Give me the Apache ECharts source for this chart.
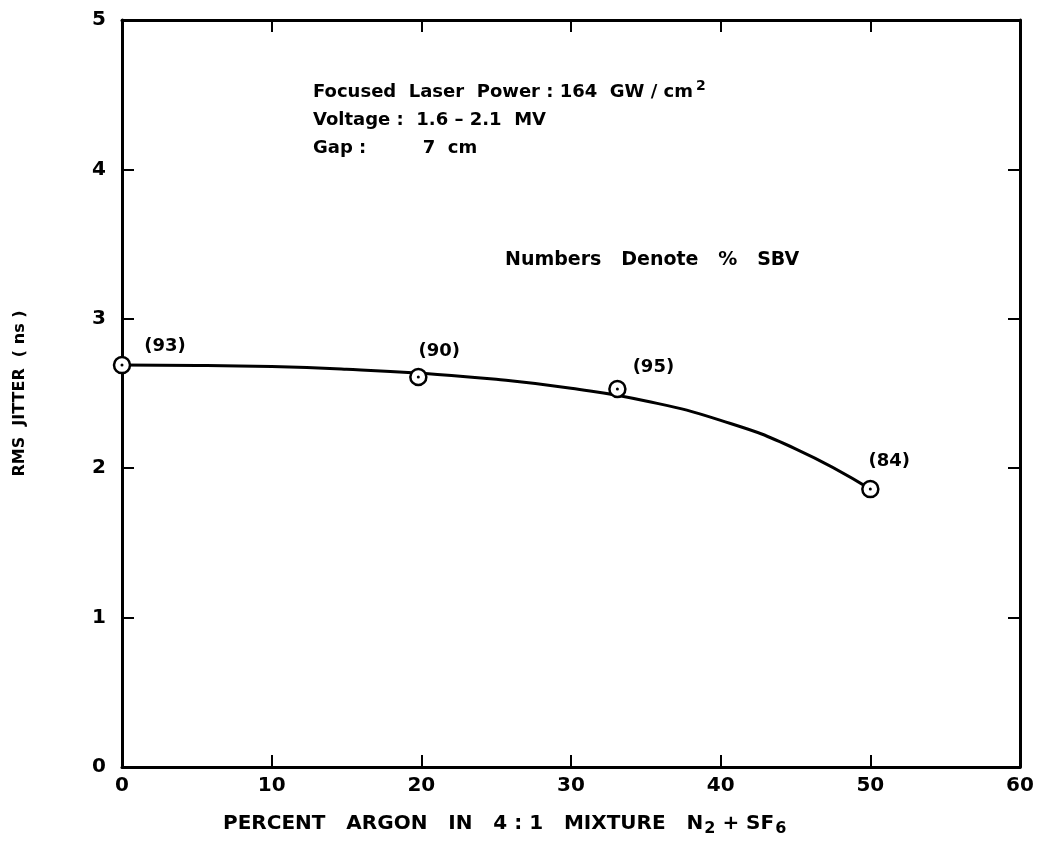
<!DOCTYPE html>
<html>
<head>
<meta charset="utf-8">
<style>
  html, body { margin: 0; padding: 0; background: #fff; }
  #chart { width: 1047px; height: 866px; }
</style>
<script src="https://cdn.jsdelivr.net/npm/echarts@6/dist/echarts.min.js"></script>
</head>
<body>
<div id="chart"></div>
<script>
// measured points (percent argon, rms jitter in ns)
const pointX = [0, 19.8, 33.1, 50]
const pointY = [2.69, 2.61, 2.53, 1.86]
const pointLabels = ['(93)', '(90)', '(95)', '(84)']

// hand-drawn trend curve
const curveX = [0, 5, 10, 15, 20, 25, 30, 35, 40, 45, 50]
const curveY = [2.69, 2.688, 2.68, 2.662, 2.635, 2.595, 2.535, 2.45, 2.32, 2.13, 1.86]

const xTicks = [0, 10, 20, 30, 40, 50, 60]
const yTicks = [0, 1, 2, 3, 4, 5]

const FONT = 'DejaVu Sans'
const labelOffsets = [[43, 4], [21, -2], [36, 2], [19, -5]]

const chart = echarts.init(document.getElementById('chart'))

const axisCommon = {
  axisLine: { show: true, onZero: false, lineStyle: { color: '#000', width: 3 } },
  axisTick: { show: true, inside: true, length: 12, lineStyle: { color: '#000', width: 2 } },
  splitLine: { show: false }
}

const option = {
  backgroundColor: '#fff',
  animation: false,
  grid: { left: 122, right: 27, top: 20, bottom: 99 },
  xAxis: [
    {
      type: 'value', min: xTicks[0], max: xTicks[xTicks.length - 1], interval: 10,
      position: 'bottom', ...axisCommon,
      axisLabel: { color: '#000', fontFamily: FONT, fontWeight: 'bold', fontSize: 20, margin: 9 }
    },
    {
      type: 'value', min: xTicks[0], max: xTicks[xTicks.length - 1], interval: 10,
      position: 'top', ...axisCommon, axisLabel: { show: false }
    }
  ],
  yAxis: [
    {
      type: 'value', min: yTicks[0], max: yTicks[yTicks.length - 1], interval: 1,
      position: 'left', ...axisCommon,
      axisLabel: { color: '#000', fontFamily: FONT, fontWeight: 'bold', fontSize: 20, margin: 16 },
      name: 'RMS  JITTER  ( ns )', nameLocation: 'middle', nameGap: 94, nameRotate: 90,
      nameTextStyle: { color: '#000', fontFamily: FONT, fontWeight: 'bold', fontSize: 16 }
    },
    {
      type: 'value', min: yTicks[0], max: yTicks[yTicks.length - 1], interval: 1,
      position: 'right', ...axisCommon, axisLabel: { show: false }
    }
  ],
  graphic: [
    {
      type: 'text', left: 313, top: 78,
      style: {
        text: 'Focused  Laser  Power : 164  GW / cm{sup|2}\nVoltage :  1.6 – 2.1  MV\nGap :         7  cm',
        fill: '#000', font: 'bold 18px "DejaVu Sans"', lineHeight: 28,
        rich: { sup: { fontSize: 14, fontWeight: 'bold', fontFamily: FONT, padding: [0, 0, 12, 3] } }
      }
    },
    {
      type: 'text', left: 505, top: 251,
      style: { text: 'Numbers   Denote   %   SBV', fill: '#000', font: 'bold 19px "DejaVu Sans"' }
    },
    {
      type: 'text', left: 223, top: 814,
      style: {
        text: 'PERCENT   ARGON   IN   4 : 1   MIXTURE   N{sub|2} + SF{sub|6}',
        fill: '#000', font: 'bold 20px "DejaVu Sans"',
        rich: { sub: { fontSize: 16, fontWeight: 'bold', fontFamily: FONT, padding: [10, 0, 0, 1] } }
      }
    }
  ],
  series: [
    {
      type: 'line',
      data: curveX.map((x, i) => [x, curveY[i]]),
      smooth: 0.5,
      showSymbol: false,
      lineStyle: { color: '#000', width: 3 },
      z: 2
    },
    {
      type: 'scatter',
      data: pointX.map((x, i) => ({
        value: [x, pointY[i]],
        label: { offset: labelOffsets[i] }
      })),
      symbol: 'circle',
      symbolSize: 16,
      itemStyle: { color: '#fff', borderColor: '#000', borderWidth: 2.5, opacity: 1 },
      label: {
        show: true,
        position: 'top',
        formatter: p => pointLabels[p.dataIndex],
        color: '#000', fontFamily: FONT, fontWeight: 'bold', fontSize: 18
      },
      z: 3
    },
    {
      type: 'scatter',
      data: pointX.map((x, i) => [x, pointY[i]]),
      symbol: 'circle',
      symbolSize: 3,
      itemStyle: { color: '#000', opacity: 1 },
      silent: true,
      z: 4
    }
  ]
}

chart.setOption(option)
</script>
</body>
</html>
